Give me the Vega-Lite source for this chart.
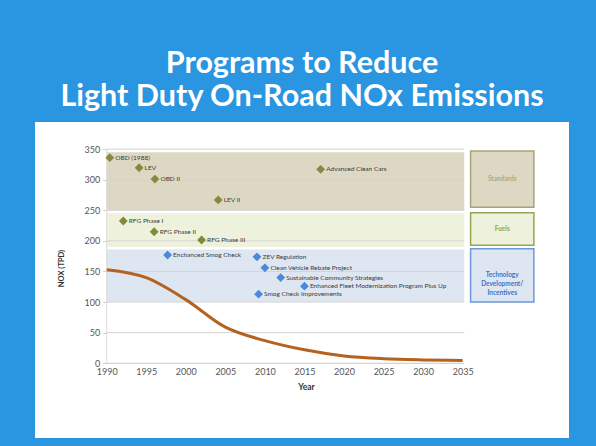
{
  "$schema": "https://vega.github.io/schema/vega-lite/v6.json",
  "width": 534,
  "height": 316,
  "autosize": {"type": "none"},
  "padding": {"left": 35, "top": 122, "right": 27, "bottom": 8},
  "background": "#2a95e0",
  "config": {"view": {"fill": "white", "stroke": null}, "font": "Lato"},
  "title": {
    "text": ["Programs to Reduce", "Light Duty On-Road NOx Emissions"],
    "color": "white",
    "font": "Lato",
    "fontSize": 30.5,
    "fontWeight": "bold",
    "lineHeight": 33,
    "anchor": "middle",
    "frame": "group",
    "baseline": "alphabetic",
    "offset": -14
  },
  "datasets": {
    "bands": [
      {"band": "Standards", "lo": 250, "hi": 345},
      {"band": "Fuels", "lo": 190, "hi": 245},
      {"band": "Tech", "lo": 100, "hi": 186}
    ],
    "grid": [{"v": 50}, {"v": 100}, {"v": 150}, {"v": 200}, {"v": 250}, {"v": 300}, {"v": 350}],
    "nox": [
      {"Year": 1990, "NOx": 153},
      {"Year": 1995, "NOx": 140},
      {"Year": 2000, "NOx": 104},
      {"Year": 2005, "NOx": 59},
      {"Year": 2010, "NOx": 37},
      {"Year": 2015, "NOx": 22},
      {"Year": 2020, "NOx": 12},
      {"Year": 2025, "NOx": 7.5},
      {"Year": 2030, "NOx": 5.5},
      {"Year": 2035, "NOx": 4.5}
    ],
    "programs": [
      {"program": "OBD (1988)", "group": "Standards", "Year": 1990.4, "NOx": 336},
      {"program": "LEV", "group": "Standards", "Year": 1994.1, "NOx": 319.5},
      {"program": "OBD II", "group": "Standards", "Year": 1996.1, "NOx": 301},
      {"program": "LEV II", "group": "Standards", "Year": 2004.1, "NOx": 267},
      {"program": "Advanced Clean Cars", "group": "Standards", "Year": 2017.05, "NOx": 317},
      {"program": "RFG Phase I", "group": "Fuels", "Year": 1992.1, "NOx": 232.5},
      {"program": "RFG Phase II", "group": "Fuels", "Year": 1996.0, "NOx": 215},
      {"program": "RFG Phase III", "group": "Fuels", "Year": 2002.0, "NOx": 201.5},
      {"program": "Enchanced Smog Check", "group": "Tech", "Year": 1997.7, "NOx": 177},
      {"program": "ZEV Regulation", "group": "Tech", "Year": 2009.0, "NOx": 174},
      {"program": "Clean Vehicle Rebate Project", "group": "Tech", "Year": 2010.0, "NOx": 156},
      {"program": "Sustainable Community Strategies", "group": "Tech", "Year": 2012.0, "NOx": 140},
      {"program": "Enhanced Fleet Modernization Program Plus Up", "group": "Tech", "Year": 2015.0, "NOx": 126},
      {"program": "Smog Check Improvements", "group": "Tech", "Year": 2009.2, "NOx": 113}
    ],
    "boxes": [
      {"box": "Standards", "label": "Standards", "x1": 2036, "x2": 2044, "lo": 255, "hi": 347, "mid": 301},
      {"box": "Fuels", "label": "Fuels", "x1": 2036, "x2": 2044, "lo": 193, "hi": 246, "mid": 219.5},
      {"box": "Tech", "label": "Technology\nDevelopment/\nIncentives", "x1": 2036, "x2": 2044, "lo": 100, "hi": 187, "mid": 143.5}
    ]
  },
  "resolve": {"scale": {"color": "independent", "fill": "independent", "stroke": "independent"}},
  "layer": [
    {
      "data": {"name": "bands"},
      "mark": {"type": "rect"},
      "encoding": {
        "x": {"datum": 1990, "type": "quantitative", "scale": {"domain": [1980.94, 2048.44], "nice": false, "zero": false},
          "axis": {"orient": "bottom", "offset": -74.7, "values": [1990, 1995, 2000, 2005, 2010, 2015, 2020, 2025, 2030, 2035],
            "format": "d", "domain": false, "ticks": false, "grid": false, "labelPadding": 4,
            "labelFontSize": 9, "labelColor": "#555555", "labelFont": "Lato",
            "title": "Year", "titleFontSize": 8.5, "titleFontWeight": "bold", "titleColor": "#333333",
            "titleX": 271, "titleY": 22.7, "titleBaseline": "middle", "titleAnchor": null}},
        "x2": {"datum": 2035.2},
        "y": {"field": "lo", "type": "quantitative", "scale": {"domain": [-122.1, 394.3], "nice": false, "zero": false},
          "axis": {"orient": "left", "offset": -71.7, "values": [0, 50, 100, 150, 200, 250, 300, 350],
            "domain": false, "ticks": true, "tickSize": 4, "tickColor": "#cfcfcf", "grid": false, "labelPadding": 3,
            "labelFontSize": 9, "labelColor": "#555555", "labelFont": "Lato",
            "title": "NOX (TPD)", "titleFontSize": 7.5, "titleFontWeight": "bold", "titleColor": "#333333",
            "titleX": -45, "titleY": 146, "titleBaseline": "middle", "titleAngle": -90, "titleAnchor": null}},
        "y2": {"field": "hi"},
        "fill": {"field": "band", "type": "nominal", "scale": {"domain": ["Standards", "Fuels", "Tech"], "range": ["#ddd8c3", "#eef2dd", "#dee6f2"]}, "legend": null}
      }
    },
    {
      "data": {"name": "grid"},
      "mark": {"type": "rule", "stroke": "#d4d4d4", "strokeWidth": 1},
      "encoding": {
        "x": {"datum": 1990, "type": "quantitative"},
        "x2": {"datum": 2035.2},
        "y": {"field": "v", "type": "quantitative"}
      }
    },
    {
      "data": {"values": [{"a": 0}]},
      "mark": {"type": "rule", "stroke": "#c8c8c8", "strokeWidth": 1},
      "encoding": {
        "x": {"datum": 1990, "type": "quantitative"},
        "x2": {"datum": 2035.2},
        "y": {"datum": 0, "type": "quantitative"}
      }
    },
    {
      "data": {"values": [{"a": 0}]},
      "mark": {"type": "rule", "stroke": "#dcdcdc", "strokeWidth": 1},
      "encoding": {
        "x": {"datum": 1990, "type": "quantitative"},
        "y": {"datum": 0, "type": "quantitative"},
        "y2": {"datum": 350}
      }
    },
    {
      "data": {"name": "nox"},
      "mark": {"type": "line", "color": "#b4621f", "strokeWidth": 3, "interpolate": "monotone"},
      "encoding": {
        "x": {"field": "Year", "type": "quantitative"},
        "y": {"field": "NOx", "type": "quantitative"}
      }
    },
    {
      "data": {"name": "programs"},
      "mark": {"type": "point", "shape": "diamond", "filled": true, "opacity": 1, "size": 78},
      "encoding": {
        "x": {"field": "Year", "type": "quantitative"},
        "y": {"field": "NOx", "type": "quantitative"},
        "color": {"field": "group", "type": "nominal", "scale": {"domain": ["Standards", "Fuels", "Tech"], "range": ["#8a873f", "#7f8c35", "#4c89d8"]}, "legend": null}
      }
    },
    {
      "data": {"name": "programs"},
      "mark": {"type": "text", "align": "left", "baseline": "middle", "dx": 5.5, "fontSize": 6.5, "color": "#3a3a3a", "font": "Lato"},
      "encoding": {
        "x": {"field": "Year", "type": "quantitative"},
        "y": {"field": "NOx", "type": "quantitative"},
        "text": {"field": "program"}
      }
    },
    {
      "data": {"name": "boxes"},
      "mark": {"type": "rect", "strokeWidth": 1.5},
      "encoding": {
        "x": {"field": "x1", "type": "quantitative"},
        "x2": {"field": "x2"},
        "y": {"field": "lo", "type": "quantitative"},
        "y2": {"field": "hi"},
        "fill": {"field": "box", "type": "nominal", "scale": {"domain": ["Standards", "Fuels", "Tech"], "range": ["#ddd8c3", "#eef2dd", "#dee6f2"]}, "legend": null},
        "stroke": {"field": "box", "type": "nominal", "scale": {"domain": ["Standards", "Fuels", "Tech"], "range": ["#a8a47a", "#8fa852", "#6a98d8"]}, "legend": null}
      }
    },
    {
      "data": {"name": "boxes"},
      "mark": {"type": "text", "align": "center", "baseline": "middle", "fontSize": 6.5, "fontWeight": "bold", "lineBreak": "\n", "lineHeight": 9, "font": "Lato"},
      "encoding": {
        "x": {"datum": 2040, "type": "quantitative"},
        "y": {"field": "mid", "type": "quantitative"},
        "text": {"field": "label"},
        "color": {"field": "box", "type": "nominal", "scale": {"domain": ["Standards", "Fuels", "Tech"], "range": ["#b0a982", "#8fa852", "#3d74c0"]}, "legend": null}
      }
    }
  ]
}
